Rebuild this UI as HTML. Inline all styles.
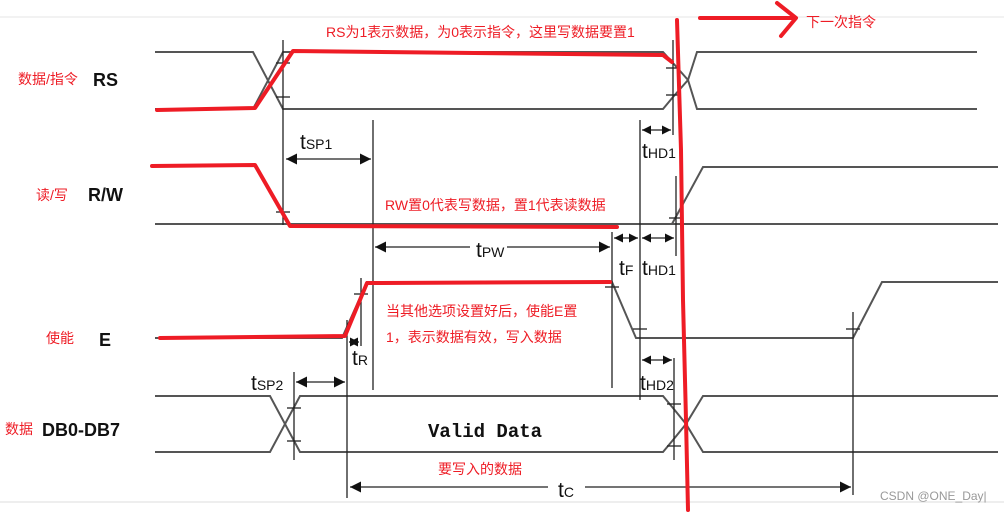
<!DOCTYPE html>
<html><head><meta charset="utf-8"><style>
html,body{margin:0;padding:0;background:#fff;}
svg{display:block}
.g{stroke:#555;stroke-width:2;fill:none}
.k{stroke:#222;stroke-width:1.3;fill:none}
.r{stroke:#ee1c25;stroke-width:4;fill:none;stroke-linejoin:round;stroke-linecap:round}
.cn{font-family:"Liberation Sans","Noto Sans CJK SC",sans-serif;fill:#ee1c25;font-size:14px}
.lb{font-family:"Liberation Sans",sans-serif;fill:#111;font-size:18px;font-weight:bold}
.t{font-family:"Liberation Sans",sans-serif;fill:#111;font-size:21px}
.ts{font-size:14px}
</style></head><body>
<svg width="1004" height="513" viewBox="0 0 1004 513" xmlns="http://www.w3.org/2000/svg">
<defs><marker id="a" viewBox="0 0 10 10" refX="10" refY="5" markerWidth="9" markerHeight="9" markerUnits="userSpaceOnUse" orient="auto-start-reverse"><path d="M0,0L10,5L0,10z" fill="#111"/></marker>
<marker id="b" viewBox="0 0 10 10" refX="10" refY="5" markerWidth="11" markerHeight="11" markerUnits="userSpaceOnUse" orient="auto-start-reverse"><path d="M0,0L10,5L0,10z" fill="#111"/></marker></defs>
<line x1="0" y1="17" x2="1004" y2="17" stroke="#eee" stroke-width="1.5"/>
<line x1="0" y1="502" x2="1004" y2="502" stroke="#eee" stroke-width="2"/>
<polyline class="g" points="155,52 253,52 283,109 663,109 673,97 688,80 697,52 977,52"/>
<polyline class="g" points="155,109 253,109 283,52 663,52 673,63 688,80 697,109 977,109"/>
<polyline class="g" points="155,224 998,224"/>
<polyline class="g" points="672,224 703,167 998,167"/>
<polyline class="g" points="155,338 342,338 367,282 612,282 636,338 853,338 882,282 998,282"/>
<polyline class="g" points="155,396 270,396 300,452 663,452 673,440 686,424 703,396 998,396"/>
<polyline class="g" points="155,452 270,452 300,396 663,396 673,408 686,424 703,452 998,452"/>
<g class="k">
<line x1="276" y1="63" x2="290" y2="63"/><line x1="276" y1="97" x2="290" y2="97"/>
<line x1="666" y1="68" x2="680" y2="68"/><line x1="666" y1="95" x2="680" y2="95"/>
<line x1="276" y1="212" x2="290" y2="212"/><line x1="669" y1="218" x2="683" y2="218"/>
<line x1="354" y1="294" x2="368" y2="294"/><line x1="605" y1="287" x2="619" y2="287"/>
<line x1="633" y1="329" x2="647" y2="329"/><line x1="846" y1="329" x2="860" y2="329"/>
<line x1="287" y1="408" x2="301" y2="408"/><line x1="287" y1="441" x2="301" y2="441"/>
<line x1="667" y1="404" x2="681" y2="404"/><line x1="667" y1="446" x2="681" y2="446"/>
</g>
<line class="k" x1="283" y1="40" x2="283" y2="225"/>
<line class="k" x1="373" y1="120" x2="373" y2="390"/>
<line class="k" x1="640" y1="120" x2="640" y2="400"/>
<line class="k" x1="673" y1="40" x2="673" y2="135"/>
<line class="k" x1="676" y1="176" x2="676" y2="256"/>
<line class="k" x1="612" y1="232" x2="612" y2="388"/>
<line class="k" x1="361" y1="278" x2="361" y2="346"/>
<line class="k" x1="347" y1="320" x2="347" y2="498"/>
<line class="k" x1="294" y1="372" x2="294" y2="460"/>
<line class="k" x1="674" y1="358" x2="674" y2="460"/>
<line class="k" x1="853" y1="312" x2="853" y2="495"/>
<line class="k" x1="286" y1="159" x2="371" y2="159" marker-start="url(#b)" marker-end="url(#b)"/>
<line class="k" x1="642" y1="130" x2="671" y2="130" marker-start="url(#a)" marker-end="url(#a)"/>
<line class="k" x1="375" y1="247" x2="470" y2="247" marker-start="url(#b)"/>
<line class="k" x1="507" y1="247" x2="610" y2="247" marker-end="url(#b)"/>
<line class="k" x1="614" y1="238" x2="638" y2="238" marker-start="url(#a)" marker-end="url(#a)"/>
<line class="k" x1="642" y1="238" x2="674" y2="238" marker-start="url(#a)" marker-end="url(#a)"/>
<line class="k" x1="349" y1="342" x2="359" y2="342" marker-start="url(#a)" marker-end="url(#a)"/>
<line class="k" x1="642" y1="360" x2="672" y2="360" marker-start="url(#a)" marker-end="url(#a)"/>
<line class="k" x1="296" y1="382" x2="345" y2="382" marker-start="url(#b)" marker-end="url(#b)"/>
<line class="k" x1="350" y1="487" x2="548" y2="487" marker-start="url(#b)"/>
<line class="k" x1="585" y1="487" x2="851" y2="487" marker-end="url(#b)"/>
<text class="t" x="300" y="149">t<tspan class="ts">SP1</tspan></text>
<text class="t" x="642" y="158">t<tspan class="ts">HD1</tspan></text>
<text class="t" x="476" y="257">t<tspan class="ts">PW</tspan></text>
<text class="t" x="619" y="275">t<tspan class="ts">F</tspan></text>
<text class="t" x="642" y="275">t<tspan class="ts">HD1</tspan></text>
<text class="t" x="352" y="365">t<tspan class="ts">R</tspan></text>
<text class="t" x="640" y="390">t<tspan class="ts">HD2</tspan></text>
<text class="t" x="251" y="390">t<tspan class="ts">SP2</tspan></text>
<text class="t" x="558" y="497">t<tspan class="ts">C</tspan></text>
<text x="428" y="437" style="font-family:'Liberation Mono',monospace;font-size:19px;fill:#111;font-weight:bold">Valid Data</text>
<text class="cn" x="18" y="84">数据/指令</text><text class="lb" x="93" y="86">RS</text>
<text class="cn" x="36" y="200">读/写</text><text class="lb" x="88" y="201">R/W</text>
<text class="cn" x="46" y="343">使能</text><text class="lb" x="99" y="346">E</text>
<text class="cn" x="5" y="434">数据</text><text class="lb" x="42" y="436">DB0-DB7</text>
<polyline class="r" points="157,110 255,108 293,51 663,55 672,62"/>
<polyline class="r" points="152,166 255,165 290,226 617,227"/>
<polyline class="r" points="160,338 345,336 367,283 610,282"/>
<path class="r" d="M677,20 L681,150 L683,300 L686,420 L688,510"/>
<polyline class="r" points="700,18 795,18"/>
<polyline class="r" points="777,3 796,18 781,36"/>
<text class="cn" x="806" y="27">下一次指令</text>
<text class="cn" x="326" y="37">RS为1表示数据，为0表示指令，这里写数据要置1</text>
<text class="cn" x="385" y="210">RW置0代表写数据，置1代表读数据</text>
<text class="cn" x="386" y="316">当其他选项设置好后，使能E置</text>
<text class="cn" x="386" y="342">1，表示数据有效，写入数据</text>
<text class="cn" x="438" y="474">要写入的数据</text>
<text x="880" y="500" style="font-family:'Liberation Sans',sans-serif;font-size:12px;fill:#999">CSDN @ONE_Day|</text>
</svg>
</body></html>
